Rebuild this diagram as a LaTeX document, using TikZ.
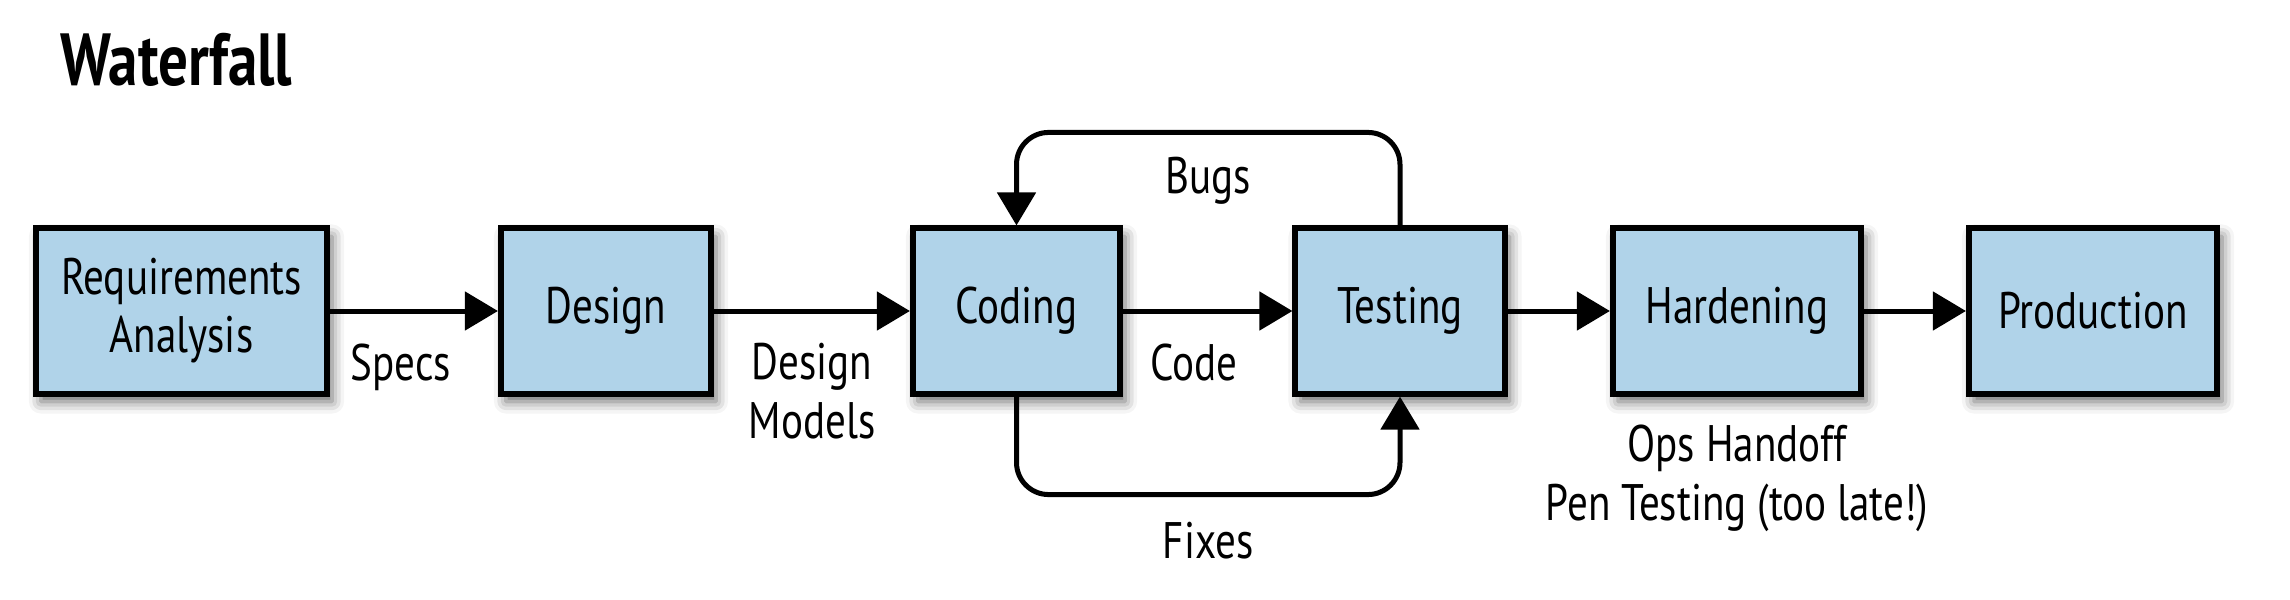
\documentclass[tikz,border=0pt]{standalone}
\usepackage{fontspec}
\setmainfont{PT Sans}[FakeStretch=0.8]
\usetikzlibrary{arrows.meta,positioning,shadows.blur}
\definecolor{boxblue}{RGB}{176,211,233}

\begin{document}
\begin{tikzpicture}[x=0.01cm, y=-0.01cm,
    phase/.style={draw=black, line width=0.06cm, fill=boxblue, minimum height=1.65cm, align=center,
        font=\fontsize{14.6}{16.5}\selectfont,
        blur shadow={shadow xshift=0.05cm, shadow yshift=-0.08cm, shadow blur radius=0.12cm, shadow opacity=60}},
    flow/.style={line width=0.05cm, -{Triangle[length=0.33cm, width=0.38cm]}},
    lbl/.style={align=center, font=\fontsize{14.6}{16.8}\selectfont, inner sep=0pt}]
    \useasboundingbox (0,0) rectangle (2290,600);

    % Title
    \node[anchor=base west, inner sep=0pt, font=\fontsize{21}{24}\selectfont\bfseries] (title) at (60,85) {Waterfall};

    % Phases
    \node[phase, minimum width=2.91cm] (req) at (181.5,311) {Requirements\\Analysis};
    \node[phase, minimum width=2.10cm] (design) at (606,311) {Design};
    \node[phase, minimum width=2.07cm] (code) at (1016.5,311) {Coding};
    \node[phase, minimum width=2.09cm] (test) at (1400,311) {Testing};
    \node[phase, minimum width=2.48cm] (hard) at (1737,311) {Hardening};
    \node[phase, minimum width=2.48cm] (prod) at (2093,311) {Production};

    % Main flow
    \draw[flow] (req) -- node[lbl, below=0.3cm, xshift=-0.13cm] {Specs} (design);
    \draw[flow] (design) -- node[lbl, below=0.3cm] {Design\\Models} (code);
    \draw[flow] (code) -- node[lbl, below=0.3cm, xshift=-0.14cm] {Code} (test);
    \draw[flow] (test) -- (hard);
    \draw[flow] (hard) -- (prod);

    % Feedback loops
    \draw[flow, rounded corners=0.32cm] (test.north) -- ++(0,-93) -| node[lbl, pos=0.25, below=0.22cm] {Bugs} (code.north);
    \draw[flow, rounded corners=0.32cm] (code.south) -- ++(0,98) -| node[lbl, pos=0.25, below=0.25cm] {Fixes} (test.south);

    % Hardening note
    \node[lbl, below=0.28cm of hard] (ops) {Ops Handoff\\Pen Testing (too late!)};
\end{tikzpicture}
\end{document}
